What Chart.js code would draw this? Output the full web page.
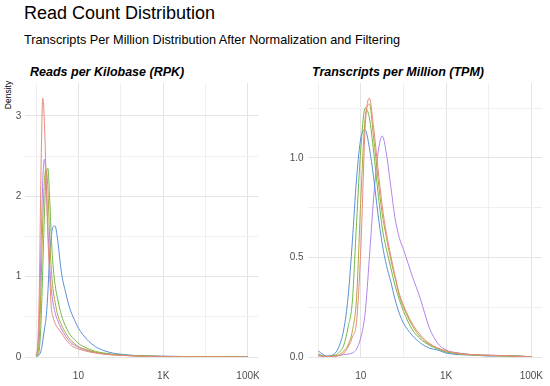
<!DOCTYPE html>
<html>
<head>
<meta charset="utf-8">
<script src="https://cdn.jsdelivr.net/npm/chart.js@4.4.1/dist/chart.umd.min.js"></script>
<style>
  body { margin: 0; background: #fff; }
  #wrap { position: relative; width: 550px; height: 386px; font-family: "Liberation Sans", Arial, sans-serif; overflow: hidden; }
  .txt { position: absolute; white-space: nowrap; line-height: 1; color: #000; }
  canvas { position: absolute; }
</style>
</head>
<body>
<div id="wrap">
  <div class="txt" style="left:24px; top:4.3px; font-size:18px;">Read Count Distribution</div>
  <div class="txt" style="left:24px; top:34.3px; font-size:12.7px;">Transcripts Per Million Distribution After Normalization and Filtering</div>
  <div class="txt" style="left:30px; top:66.4px; font-size:12.5px; font-weight:bold; font-style:italic;">Reads per Kilobase (RPK)</div>
  <div class="txt" style="left:312px; top:66.4px; font-size:12.5px; font-weight:bold; font-style:italic;">Transcripts per Million (TPM)</div>
  <div class="txt" style="left:8px; top:95px; font-size:8.5px; transform: translate(-50%,-50%) rotate(-90deg);">Density</div>
  <canvas id="rpk-chart" width="265" height="326" style="left:0px; top:60px;"></canvas>
  <canvas id="tpm-chart" width="270" height="326" style="left:280px; top:60px;"></canvas>
</div>
<script>
// x values are log10 of the count (0 = 1, 1 = 10, 3 = 1K, 5 = 100K)
var x_labels = {1: "10", 3: "1K", 5: "100K"};
var series_colors = ["#E98A7E", "#B1A53A", "#72B84A", "#5A8FD6", "#B285EC"];

// Reads per Kilobase
var rpk_x = [0, 0.04, 0.08, 0.12, 0.16, 0.2, 0.24, 0.28, 0.32, 0.36, 0.4, 0.45, 0.5, 0.6, 0.7, 0.8, 0.9, 1.0, 1.2, 1.4, 1.6, 1.8, 2.0, 2.3, 2.6, 3.0, 3.5, 4.0, 4.5, 5.0];
var rpk_s1 = [0.03, 0.15, 0.9, 2.4, 3.22, 2.9, 2.2, 1.5, 1.05, 0.62, 0.5, 0.42, 0.37, 0.3, 0.22, 0.16, 0.12, 0.1, 0.07, 0.05, 0.035, 0.025, 0.02, 0.012, 0.008, 0.005, 0.003, 0.002, 0.001, 0];
var rpk_s2 = [0.01, 0.04, 0.25, 0.9, 1.7, 2.2, 2.33, 2.1, 1.5, 1.1, 0.85, 0.68, 0.55, 0.4, 0.3, 0.22, 0.17, 0.13, 0.09, 0.06, 0.04, 0.03, 0.022, 0.015, 0.01, 0.006, 0.004, 0.003, 0.002, 0.001];
var rpk_s3 = [0.01, 0.02, 0.1, 0.45, 1.1, 1.8, 2.25, 2.35, 2.0, 1.5, 1.15, 0.9, 0.75, 0.52, 0.38, 0.28, 0.22, 0.17, 0.11, 0.07, 0.05, 0.035, 0.025, 0.018, 0.012, 0.008, 0.005, 0.003, 0.002, 0.001];
var rpk_s4 = [0.01, 0.01, 0.03, 0.08, 0.2, 0.35, 0.5, 0.8, 1.25, 1.5, 1.62, 1.63, 1.5, 1.05, 0.8, 0.6, 0.47, 0.36, 0.22, 0.13, 0.08, 0.05, 0.035, 0.02, 0.014, 0.01, 0.006, 0.004, 0.002, 0.001];
var rpk_s5 = [0.02, 0.1, 0.5, 1.4, 2.2, 2.46, 2.2, 1.6, 1.15, 0.85, 0.68, 0.55, 0.47, 0.35, 0.26, 0.19, 0.15, 0.12, 0.08, 0.055, 0.04, 0.03, 0.022, 0.015, 0.01, 0.006, 0.004, 0.003, 0.002, 0.001];

// Transcripts per Million
var tpm_x = [0, 0.2, 0.4, 0.5, 0.6, 0.7, 0.8, 0.9, 1.0, 1.1, 1.2, 1.3, 1.4, 1.5, 1.6, 1.7, 1.8, 1.9, 2.0, 2.2, 2.4, 2.6, 2.8, 3.0, 3.3, 3.6, 4.0, 4.4, 4.8, 5.0];
var tpm_s1 = [0.01, 0.002, 0.004, 0.008, 0.02, 0.05, 0.1, 0.18, 0.55, 1.15, 1.3, 1.15, 0.95, 0.76, 0.62, 0.51, 0.41, 0.32, 0.26, 0.17, 0.11, 0.07, 0.045, 0.03, 0.018, 0.012, 0.008, 0.006, 0.003, 0.001];
var tpm_s2 = [0.01, 0.002, 0.005, 0.012, 0.03, 0.06, 0.13, 0.3, 0.8, 1.2, 1.27, 1.1, 0.9, 0.72, 0.6, 0.49, 0.4, 0.31, 0.25, 0.16, 0.1, 0.065, 0.045, 0.03, 0.018, 0.012, 0.008, 0.006, 0.003, 0.001];
var tpm_s3 = [0.015, 0.003, 0.01, 0.025, 0.06, 0.15, 0.28, 0.68, 1.05, 1.25, 1.2, 1.03, 0.83, 0.65, 0.54, 0.45, 0.36, 0.29, 0.23, 0.14, 0.09, 0.06, 0.04, 0.025, 0.015, 0.01, 0.006, 0.005, 0.003, 0.001];
var tpm_s4 = [0.03, 0.005, 0.02, 0.06, 0.14, 0.3, 0.58, 0.9, 1.1, 1.14, 1.05, 0.9, 0.72, 0.57, 0.46, 0.38, 0.29, 0.22, 0.17, 0.11, 0.07, 0.045, 0.035, 0.02, 0.012, 0.01, 0.005, 0.006, 0.003, 0.001];
var tpm_s5 = [0.005, 0.003, 0.005, 0.008, 0.012, 0.015, 0.02, 0.04, 0.1, 0.22, 0.5, 0.8, 1.02, 1.11, 1.02, 0.86, 0.7, 0.6, 0.54, 0.41, 0.29, 0.15, 0.07, 0.035, 0.02, 0.012, 0.01, 0.006, 0.004, 0.002];

function makeData(xs, list) {
    let sets = [];
    for (let i = 0; i < list.length; i++) {
        let pts = [];
        for (let j = 0; j < xs.length; j++) {
            pts.push({x: xs[j], y: list[i][j]});
        }
        sets.push({
            data: pts,
            borderColor: series_colors[i],
            borderWidth: 1,
            pointRadius: 0,
            fill: false,
            cubicInterpolationMode: "monotone"
        });
    }
    return {datasets: sets};
}

function createConfig(xs, list, ymax, ystep, ylabel, yaxis_width, pad_right) {
    return {
        type: "line",
        data: makeData(xs, list),
        options: {
            responsive: false,
            animation: false,
            layout: {padding: {top: 23, right: pad_right, left: 0, bottom: 0}},
            plugins: {legend: {display: false}, tooltip: {enabled: false}},
            scales: {
                x: {
                    type: "linear",
                    min: -0.25,
                    max: 5.25,
                    border: {display: false},
                    grid: {
                        drawTicks: true,
                        tickLength: 13,
                        tickColor: "rgba(0,0,0,0)",
                        color: function (ctx) { return (ctx.tick && ctx.tick.value % 2 === 1) ? "#E4E4E4" : "#EFEFEF"; }
                    },
                    ticks: {
                        stepSize: 1,
                        includeBounds: false,
                        autoSkip: false,
                        maxRotation: 0,
                        padding: 0,
                        color: "#4D4D4D",
                        font: {family: "Liberation Sans", size: 10},
                        callback: function (v) { return x_labels[v] || ""; }
                    },
                    afterFit: function (scale) { scale.height = 29; scale.paddingRight = 0; scale.paddingLeft = 0; }
                },
                y: {
                    min: 0,
                    max: ymax,
                    border: {display: false},
                    grid: {
                        drawTicks: false,
                        color: function (ctx) { return (ctx.tick && ylabel(ctx.tick.value) !== "") ? "#E4E4E4" : "#EFEFEF"; }
                    },
                    ticks: {
                        stepSize: ystep,
                        includeBounds: false,
                        autoSkip: false,
                        padding: 4,
                        color: "#4D4D4D",
                        font: {family: "Liberation Sans", size: 10},
                        callback: ylabel
                    },
                    afterFit: function (scale) { scale.width = yaxis_width; }
                }
            }
        }
    };
}

function rpkLabel(v) { return Math.abs(v - Math.round(v)) < 1e-6 ? String(Math.round(v)) : ""; }
function tpmLabel(v) { return Math.abs(v * 2 - Math.round(v * 2)) < 1e-6 ? v.toFixed(1) : ""; }

new Chart(document.getElementById("rpk-chart"),
    createConfig(rpk_x, [rpk_s1, rpk_s2, rpk_s3, rpk_s4, rpk_s5], 3.41, 0.5, rpkLabel, 25.4, 6.4));
new Chart(document.getElementById("tpm-chart"),
    createConfig(tpm_x, [tpm_s1, tpm_s2, tpm_s3, tpm_s4, tpm_s5], 1.376, 0.25, tpmLabel, 27.6, 8));
</script>
</body>
</html>
